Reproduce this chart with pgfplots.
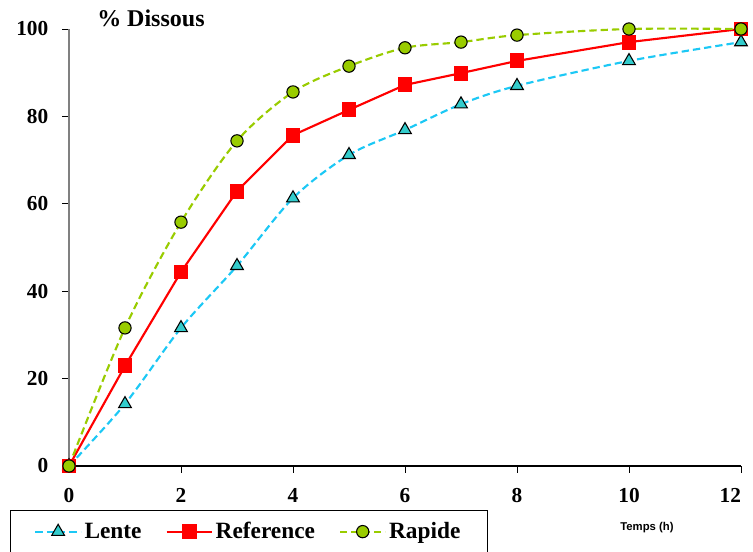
\documentclass[border=0pt]{standalone}
\usepackage{fontspec}
\setmainfont{Liberation Serif}
\newfontfamily\sansf{Liberation Sans}
\usepackage{pgfplots}
\pgfplotsset{compat=1.18}
\definecolor{lcyan}{HTML}{1CC8F5}
\definecolor{lteal}{HTML}{33CCCC}
\definecolor{rgreen}{HTML}{99CC00}
\begin{document}
\begin{tikzpicture}[x=0.75pt,y=0.75pt]
\begin{axis}[
  scale only axis, width=504pt, height=327.75pt,
  at={(0,0)}, anchor=south west,
  xmin=0, xmax=12, ymin=0, ymax=100,
  axis x line*=bottom, axis y line*=left,
  x axis line style={black, line width=0.8pt, -},
  y axis line style={gray, line width=0.8pt, -},
  xtick={0,2,...,12}, ytick={0,20,...,100},
  xticklabels={0,2,4,6,8,10,{12\rule{16pt}{0pt}}},
  tick style={black, line width=0.6pt},
  major tick length=5pt,
  tick align=outside,
  ticklabel style={font=\fontsize{16}{16}\selectfont\bfseries},
  /pgf/number format/assume math mode=true,
  xticklabel style={yshift=-8pt},
  yticklabel style={xshift=-7pt},
  clip=false,
  legend columns=3,
  legend image code/.code={\draw[mark repeat=2,mark phase=2,#1] plot coordinates {(0pt,0pt) (17pt,0pt) (34pt,0pt)};},
  legend style={at={(-0.0878,-0.1007)}, anchor=north west, draw=black, line width=0.6pt,
    font=\fontsize{17.5}{17.5}\selectfont\bfseries, inner xsep=18pt, inner ysep=7pt,
    /tikz/every odd column/.append style={column sep=0pt},
    /tikz/every even column/.append style={column sep=16pt},
    nodes={inner sep=2pt}},
]
\addplot[lcyan, dashed, dash pattern=on 5.5pt off 3pt, line width=1.6pt, smooth,
  mark=triangle*, mark size=5.5pt, mark options={solid, fill=lteal, draw=black, line width=0.8pt}]
  coordinates {(0,0) (1,14.2) (2,31.6) (3,45.8) (4,61.3) (5,71.2) (6,76.9) (7,82.8) (8,87.0) (10,92.7) (12,97.0)};
\addlegendentry{Lente}
\addplot[red, line width=1.6pt,
  mark=square*, mark size=4.8pt, mark options={solid, fill=red, draw=red}]
  coordinates {(0,0) (1,22.9) (2,44.4) (3,62.9) (4,75.7) (5,81.5) (6,87.2) (7,89.9) (8,92.7) (10,97.0) (12,100)};
\addlegendentry{Reference}
\addplot[rgreen, dashed, dash pattern=on 5.5pt off 3pt, line width=1.6pt, smooth,
  mark=*, mark size=4.6pt, mark options={solid, fill=rgreen, draw=black, line width=0.8pt}]
  coordinates {(0,0) (1,31.6) (2,55.8) (3,74.4) (4,85.6) (5,91.5) (6,95.7) (7,97.0) (8,98.6) (10,100) (12,100)};
\addlegendentry{Rapide}
\end{axis}
\node[font=\fontsize{18}{18}\selectfont\bfseries, anchor=west, inner sep=0pt] at (97-69, 466-18) {\% Dissous};
\node[font=\sansf\fontsize{8.5}{8.5}\selectfont\bfseries] at (647-69, 466-528) {Temps (h)};
\pgfresetboundingbox
\path[use as bounding box] (-69,-85) rectangle (684,466);
\end{tikzpicture}
\end{document}
